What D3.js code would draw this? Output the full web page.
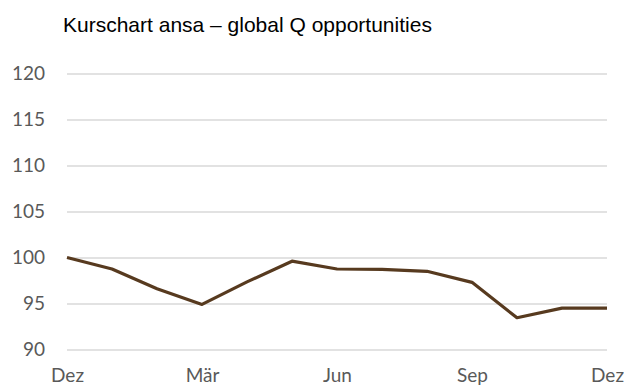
<!DOCTYPE html>
<html>
<head>
<meta charset="utf-8">
<script src="https://cdn.jsdelivr.net/npm/d3@7"></script>
<style>
  body { margin: 0; background: #fff; }
  .tick text { font-family: Lato, "Open Sans", sans-serif; fill: #595959; }
</style>
</head>
<body>
<div id="chart"></div>
<script>
// data
let months = ["Dez", "Jan", "Feb", "Mär", "Apr", "Mai", "Jun", "Jul", "Aug", "Sep", "Okt", "Nov", "Dez2"];
let prices = [100, 98.75, 96.6, 94.9, 97.35, 99.6, 98.75, 98.7, 98.5, 97.3, 93.45, 94.5, 94.5];
let xTickLabels = ["Dez", "Mär", "Jun", "Sep", "Dez2"];
let yTicks = [90, 95, 100, 105, 110, 115, 120];

let svgwidth = 624;
let svgheight = 388;

let margin = { top: 73.5, right: 17, bottom: 38.5, left: 67 };
let width = svgwidth - margin.left - margin.right;
let height = svgheight - margin.top - margin.bottom;

let svg = d3.select("#chart")
    .append("svg")
    .attr("width", svgwidth)
    .attr("height", svgheight);

svg.append("text")
    .attr("x", 63)
    .attr("y", 32)
    .attr("font-family", "'Liberation Sans', Arial, sans-serif")
    .attr("font-size", 21)
    .attr("fill", "#000")
    .text("Kurschart ansa – global Q opportunities");

let chartgroup = svg.append("g")
    .attr("transform", `translate(${margin.left}, ${margin.top})`);

let xScale = d3.scalePoint()
    .domain(months)
    .range([0, width]);

let yScale = d3.scaleLinear()
    .domain([90, 120])
    .range([height, 0]);

// gridlines + y labels
let leftAxis = d3.axisLeft(yScale)
    .tickValues(yTicks)
    .tickSize(-width)
    .tickPadding(22)
    .tickFormat(d3.format("d"));

let yAxis = chartgroup.append("g").call(leftAxis);
yAxis.select(".domain").remove();
yAxis.selectAll(".tick line").attr("stroke", "#d9d9d9").attr("stroke-width", 1.3);
yAxis.selectAll(".tick text").attr("font-size", 19);

let bottomAxis = d3.axisBottom(xScale)
    .tickValues(xTickLabels)
    .tickSize(0)
    .tickPadding(19)
    .tickFormat(d => d.replace("2", ""));

let xAxis = chartgroup.append("g")
    .attr("transform", `translate(0, ${height})`)
    .call(bottomAxis);
xAxis.select(".domain").remove();
xAxis.selectAll(".tick text").attr("font-size", 19);

let line = d3.line()
    .x((d, i) => xScale(months[i]))
    .y(d => yScale(d));

chartgroup.append("path")
    .datum(prices)
    .attr("fill", "none")
    .attr("stroke", "#573a1f")
    .attr("stroke-width", 3.2)
    .attr("stroke-linejoin", "round")
    .attr("d", line);
</script>
</body>
</html>
